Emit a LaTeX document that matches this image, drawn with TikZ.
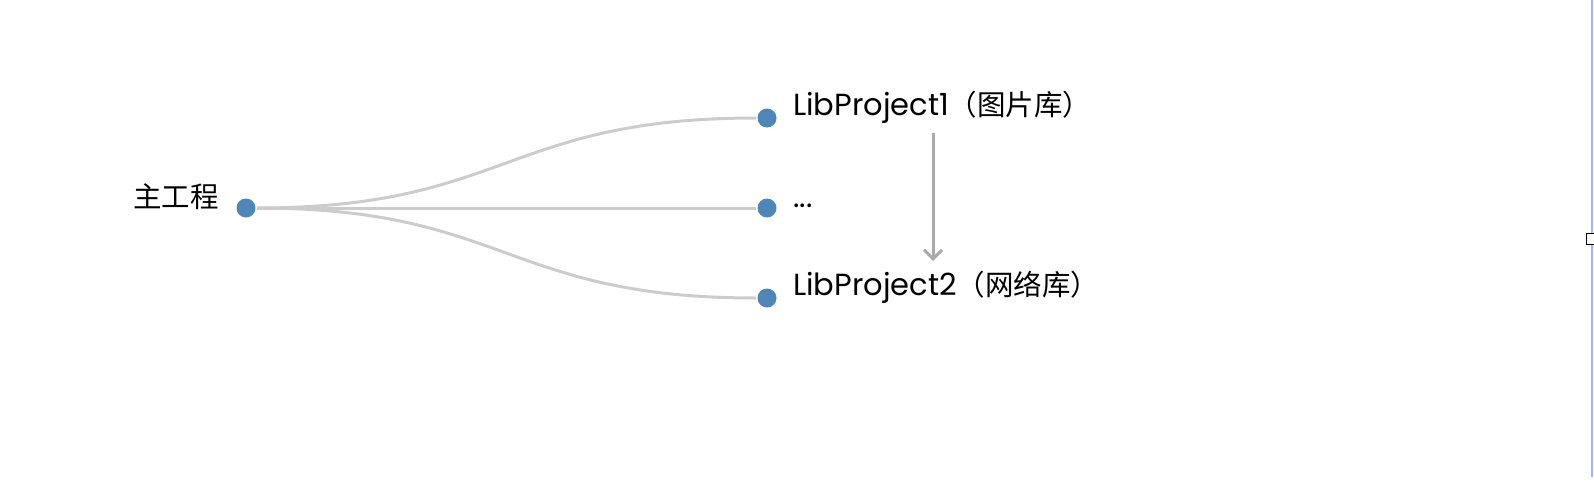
\documentclass[tikz,border=0pt]{standalone}
\usepackage{fontspec}
\usetikzlibrary{arrows.meta}
\setmainfont{Poppins}
\newfontfamily\cjk{Noto Sans CJK SC}
\definecolor{dotblue}{HTML}{4F86B8}
\definecolor{linkgray}{HTML}{CCCCCC}
\definecolor{arrowgray}{HTML}{AAAAAA}
\definecolor{edgeblue}{HTML}{9DB8FF}
\newcommand{\cjktext}[1]{{\cjk\fontsize{28.5}{30}\selectfont #1}}
\begin{document}
\begin{tikzpicture}[x=1pt,y=-1pt,
  dotnode/.style={circle,fill=dotblue,inner sep=0pt,minimum size=19pt},
  lbl/.style={inner sep=0pt,font=\fontsize{30.5}{32}\selectfont},
  link/.style={draw=linkgray,line width=3pt},
  dep/.style={draw=arrowgray,line width=3pt,-{Straight Barb[length=9pt,width=18pt,line width=3pt]}}]
\useasboundingbox (0,0) rectangle (1594,482);
\node[dotnode] (root) at (246,208) {};
\node[dotnode] (l1) at (767,118) {};
\node[dotnode] (l2) at (767,208) {};
\node[dotnode] (l3) at (767,298) {};
\node[lbl,anchor=base east] (troot) at (219,207) {\cjktext{主工程}};
\node[lbl,anchor=base west] (t1) at (793,115) {LibProject1\cjktext{（图片库）}};
\node[lbl,anchor=base west] (t2) at (793,207) {...};
\node[lbl,anchor=base west] (t3) at (793,295) {LibProject2\cjktext{（网络库）}};
\coordinate (rs) at (257,208);
\coordinate (e1) at (756,118);
\coordinate (e2) at (756,208);
\coordinate (e3) at (756,298);
\draw[link] (rs) .. controls (506,208) and (506,118) .. (e1);
\draw[link] (rs) -- (e2);
\draw[link] (rs) .. controls (506,208) and (506,298) .. (e3);
\coordinate (a1) at (933,133);
\coordinate (a2) at (933,261);
\draw[dep] (a1) -- (a2);
\draw[edgeblue,line width=1.5pt] (1592,0) -- (1592,477);
\draw[black,fill=white,line width=1pt] (1586.5,233.5) rectangle (1598,244.5);
\end{tikzpicture}
\end{document}
